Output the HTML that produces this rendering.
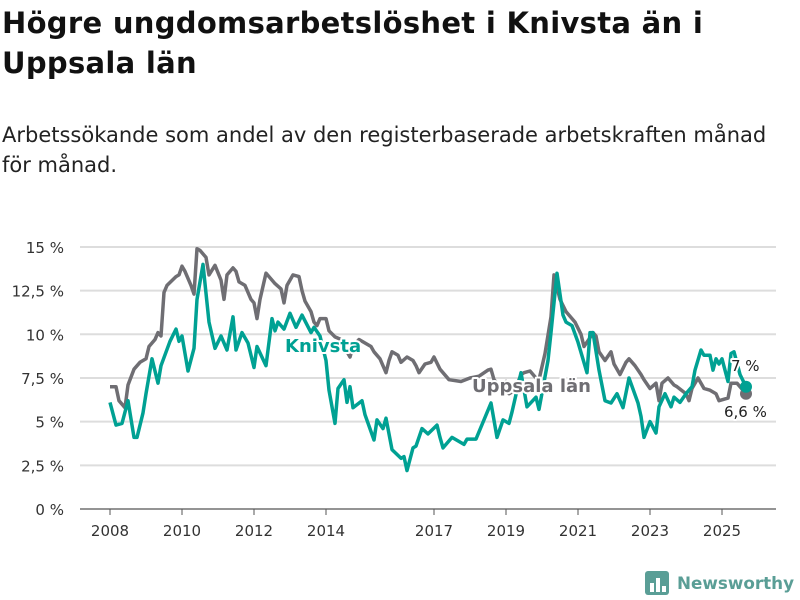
<!DOCTYPE html>
<html><head><meta charset="utf-8"><style>
body{margin:0;background:#fff;width:800px;height:600px;overflow:hidden;font-family:"DejaVu Sans","Liberation Sans",sans-serif;color:#111}
#title{position:absolute;left:2px;top:3px;font-size:29px;font-weight:bold;line-height:40px;margin:0;letter-spacing:0.3px}
#sub{position:absolute;left:2px;top:120px;font-size:21px;line-height:30px;margin:0;color:#222}
svg{position:absolute;left:0;top:0}
</style></head><body>
<h1 id="title">Högre ungdomsarbetslöshet i Knivsta än i<br>Uppsala län</h1>
<p id="sub">Arbetssökande som andel av den registerbaserade arbetskraften månad<br>för månad.</p>
<svg id="chart" width="800" height="600"></svg>
<script>
const yTicks=[0,2.5,5,7.5,10,12.5,15];
const yTickLabels=["0 %","2,5 %","5 %","7,5 %","10 %","12,5 %","15 %"];
const xTickYears=[2008,2010,2012,2014,2017,2019,2021,2023,2025];
// month index since Jan 2008
const kMonths=[0,2,4,6,8,9,11,12,14,16,17,20,22,23,24,26,28,29,31,33,35,37,39,41,42,44,46,48,49,52,54,55,56,58,60,62,64,67,68,70,72,73,75,76,78,79,80,81,84,85,88,89,91,92,94,97,98,99,101,102,104,106,109,110,111,114,118,119,122,127,129,131,133,134,137,139,142,143,146,147,149,151,152,154,156,159,160,161,163,165,167,169,171,173,176,177,178,180,182,183,185,187,188,190,192,194,195,197,198,200,201,202,203,204,206,207,208,210,212];
const kValues=[6.1,4.8,4.9,6.2,4.1,4.1,5.5,6.6,8.6,7.2,8.2,9.6,10.3,9.6,9.9,7.9,9.2,12.0,14.0,10.7,9.2,9.9,9.1,11.0,9.1,10.1,9.5,8.1,9.3,8.2,10.9,10.2,10.7,10.3,11.2,10.4,11.1,10.1,10.4,9.9,8.5,6.8,4.9,6.9,7.4,6.1,7.0,5.8,6.2,5.4,3.95,5.1,4.6,5.2,3.4,2.9,3.0,2.2,3.5,3.6,4.6,4.3,4.8,4.1,3.5,4.1,3.7,4.0,4.0,6.07,4.1,5.1,4.9,5.55,7.8,5.85,6.4,5.7,8.5,10.1,13.5,11.1,10.7,10.5,9.55,7.8,10.1,10.1,7.95,6.2,6.07,6.6,5.8,7.5,6.07,5.3,4.1,5.0,4.35,5.85,6.6,5.85,6.4,6.1,6.6,7.0,7.95,9.1,8.8,8.8,7.95,8.6,8.3,8.6,7.3,8.9,9.0,7.7,7.0];
const uMonths=[0,2,3,5,6,8,10,12,13,15,16,17,18,19,22,23,24,25,27,28,29,30,32,33,35,37,38,39,41,42,43,45,47,48,49,50,52,53,55,57,58,59,61,63,64,65,67,68,69,70,72,73,75,77,78,80,81,83,85,87,88,90,92,93,94,96,97,99,101,102,103,105,107,108,110,112,113,117,120,123,126,127,128,130,132,133,135,137,138,140,142,143,145,147,148,150,152,153,155,157,158,160,161,162,163,165,167,168,170,172,173,175,177,178,180,182,183,184,186,188,189,192,193,194,196,198,200,202,203,206,207,209,212];
const uValues=[7.0,7.0,6.2,5.8,7.1,8.0,8.4,8.6,9.3,9.7,10.1,9.9,12.4,12.8,13.3,13.4,13.9,13.6,12.8,12.3,14.9,14.8,14.4,13.4,13.95,13.1,12.0,13.4,13.8,13.6,13.0,12.8,12.0,11.8,10.9,12.0,13.5,13.3,12.9,12.6,11.8,12.8,13.4,13.3,12.5,11.9,11.3,10.7,10.5,10.9,10.9,10.2,9.85,9.7,9.3,8.7,9.3,9.7,9.5,9.3,9.0,8.6,7.8,8.5,9.0,8.8,8.4,8.7,8.5,8.2,7.8,8.3,8.4,8.7,8.0,7.6,7.4,7.3,7.5,7.6,7.95,8.0,7.4,7.0,7.3,6.6,6.8,7.7,7.8,7.9,7.5,7.4,8.9,11.0,13.4,12.0,11.3,11.1,10.7,10.0,9.3,9.8,10.1,9.9,9.0,8.5,9.0,8.3,7.7,8.4,8.6,8.2,7.7,7.4,6.9,7.2,6.2,7.2,7.5,7.1,7.0,6.6,6.2,6.9,7.5,6.9,6.8,6.6,6.2,6.35,7.2,7.2,6.6];
const lastLabels=["7 %","6,6 %"];

const NS="http://www.w3.org/2000/svg";
const svg=document.getElementById('chart');
const X0=110, PX_PER_MONTH=3, Y0=509, PX_PER_PCT=17.47;
const xm=m=>X0+m*PX_PER_MONTH;
const xy=yr=>X0+(yr-2008)*12*PX_PER_MONTH;
const yv=v=>Y0-v*PX_PER_PCT;
function mk(tag,attrs){const e=document.createElementNS(NS,tag);for(const k in attrs)e.setAttribute(k,attrs[k]);svg.appendChild(e);return e;}

yTicks.forEach((t,i)=>{
  const g=mk('line',{x1:80,x2:776,y1:yv(t),y2:yv(t),stroke:t===0?'#555':'#ddd','stroke-width':t===0?1.2:2});
  
  
  const l=mk('text',{x:64,y:yv(t)+6,'text-anchor':'end','font-size':15,fill:'#333'});
  l.textContent=yTickLabels[i];
  
  
});
xTickYears.forEach(yr=>{
  const t=mk('line',{x1:xy(yr),x2:xy(yr),y1:Y0,y2:Y0+6,stroke:'#555','stroke-width':1});
  
  
  const l=mk('text',{x:xy(yr),y:Y0+27,'text-anchor':'middle','font-size':15,fill:'#333'});
  l.textContent=yr;
  
  
});
function path(ms,vs){return ms.map((m,i)=>(i?'L':'M')+xm(m).toFixed(1)+','+yv(vs[i]).toFixed(1)).join('');}
const up=mk('path',{d:path(uMonths,uValues),fill:'none',stroke:'#6f6e73','stroke-width':3.5,'stroke-linejoin':'round'});


const kn=mk('path',{d:path(kMonths,kValues),fill:'none',stroke:'#00a193','stroke-width':3.5,'stroke-linejoin':'round'});


const ud=mk('circle',{cx:xm(uMonths[uMonths.length-1]),cy:yv(uValues[uValues.length-1]),r:6,fill:'#6f6e73'});


const kd=mk('circle',{cx:xm(kMonths[kMonths.length-1]),cy:yv(kValues[kValues.length-1]),r:6,fill:'#00a193'});


function lbl(txt,x,y,fill,size,weight,name){
  const t=mk('text',{x,y,'font-size':size,'font-weight':weight,fill,stroke:'#fff','stroke-width':4,'paint-order':'stroke','stroke-linejoin':'round'});
  t.textContent=txt;
  
  
}
lbl('Knivsta',285,352,'#00a193',18,'bold','knivsta-label');
lbl('Uppsala län',472,392,'#6f6e73',18,'bold','uppsala-label');
lbl(lastLabels[0],731,371,'#222',15,'normal','knivsta-last-value');
lbl(lastLabels[1],724,417,'#222',15,'normal','uppsala-last-value');
// logo
const lg=mk('g',{});


const r=document.createElementNS(NS,'rect');
r.setAttribute('x',645);r.setAttribute('y',571);r.setAttribute('width',24);r.setAttribute('height',24);r.setAttribute('rx',3);r.setAttribute('fill','#5a9e96');
lg.appendChild(r);
[[650,583,4],[656,578,4],[662,586,4]].forEach(b=>{const e=document.createElementNS(NS,'rect');e.setAttribute('x',b[0]);e.setAttribute('y',b[1]);e.setAttribute('width',b[2]);e.setAttribute('height',592-b[1]);e.setAttribute('fill','#fff');lg.appendChild(e);});
const lt=document.createElementNS(NS,'text');
lt.setAttribute('x',677);lt.setAttribute('y',589);lt.setAttribute('font-size',17);lt.setAttribute('font-weight','bold');lt.setAttribute('fill','#5a9e96');lt.setAttribute('textLength',117);lt.setAttribute('lengthAdjust','spacingAndGlyphs');
lt.textContent='Newsworthy';
lg.appendChild(lt);
</script>
</body></html>
